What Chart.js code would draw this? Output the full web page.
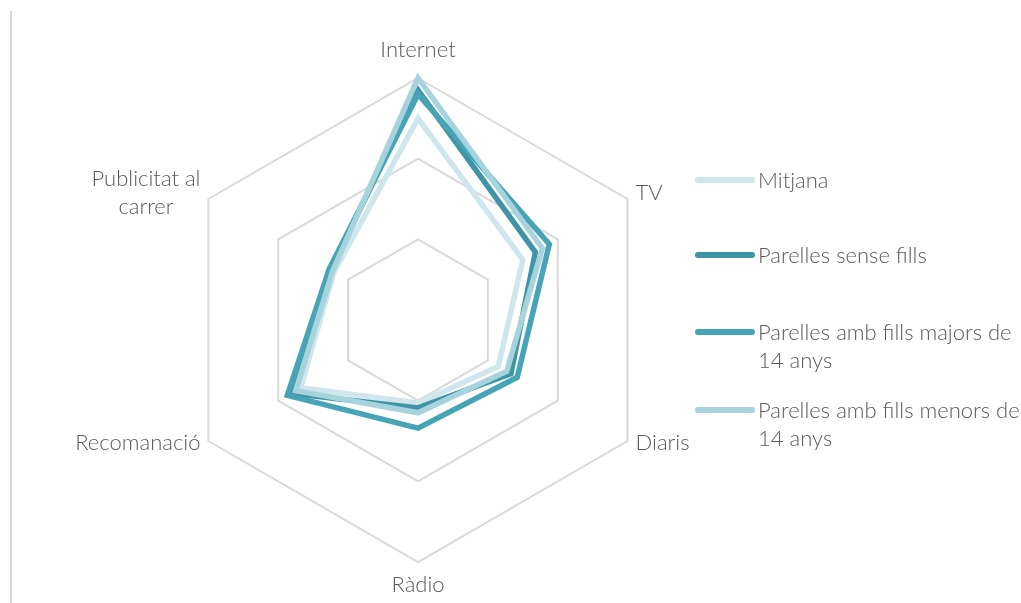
<!DOCTYPE html>
<html>
<head>
<meta charset="utf-8">
<script src="https://cdn.jsdelivr.net/npm/chart.js@4"></script>
<style>
  body { margin: 0; background: #fff; font-family: Lato, "Open Sans", sans-serif; }
  #wrap { position: relative; width: 1021px; height: 603px; }
  #edge { position: absolute; left: 10px; top: 11px; width: 2px; height: 592px; background: #d9d9d9; }
  #chartBox { position: absolute; left: 0; top: 0; width: 1021px; height: 603px; }
  #legend { position: absolute; left: 695px; top: 0; }
  .item { position: absolute; left: 0; width: 330px; }
  .item .swatch { position: absolute; left: 0; width: 60px; height: 6px; border-radius: 3px; }
  .item .txt { position: absolute; left: 63px; font-size: 22px; font-weight: 300; line-height: 28px; color: #595959; white-space: nowrap; }
</style>
</head>
<body>
<div id="wrap">
  <div id="edge"></div>
  <div id="chartBox"><canvas id="myChart"></canvas></div>
  <div id="legend"></div>
</div>
<script>
const categories = ['Internet', 'TV', 'Diaris', 'Ràdio', 'Recomanació', ['Publicitat al', 'carrer']]

const seriesNames = ['Mitjana', 'Parelles sense fills', 'Parelles amb fills majors de 14 anys', 'Parelles amb fills menors de 14 anys']
const legendLines = [['Mitjana'], ['Parelles sense fills'], ['Parelles amb fills majors de', '14 anys'], ['Parelles amb fills menors de', '14 anys']]

const mitjana = [2.5, 1.5, 1.15, 1.03, 1.68, 1.2]
const senseFills = [2.85, 1.68, 1.33, 1.09, 1.82, 1.25]
const fillsMajors = [2.8, 1.88, 1.42, 1.34, 1.87, 1.27]
const fillsMenors = [3.0, 1.78, 1.27, 1.15, 1.75, 1.22]

const colors = ['#cfe6ec', '#3e95a6', '#47a4b6', '#a7d3dd']
const allValues = [mitjana, senseFills, fillsMajors, fillsMenors]

// category labels drawn at the scale's own point positions, Excel style
const labelPlugin = {
    id: 'catLabels',
    afterDraw(chart) {
        const scale = chart.scales.r
        const ctx = chart.ctx
        const R = scale.drawingArea
        ctx.save()
        ctx.font = '300 22px Lato'
        ctx.fillStyle = '#595959'
        ctx.textBaseline = 'middle'
        const lh = 28
        categories.forEach((lab, i) => {
            const lines = Array.isArray(lab) ? lab : [lab]
            const p = scale.getPointPosition(i, R)
            const dx = p.x - scale.xCenter
            const dy = p.y - scale.yCenter
            let cx, cy, align
            if (Math.abs(dx) < 1) {
                cx = p.x
                cy = dy < 0 ? p.y - 28 : p.y + 23
                align = 'center'
            } else {
                align = dx > 0 ? 'left' : 'right'
                cx = dx > 0 ? p.x + 8 : p.x - 8
                cy = dy < 0 ? p.y - 6 : p.y + 2
            }
            const widths = lines.map(l => ctx.measureText(l).width)
            const maxW = Math.max(...widths)
            const top = cy - (lines.length - 1) * lh / 2
            lines.forEach((l, j) => {
                let x = cx
                ctx.textAlign = 'center'
                if (align === 'left') x = cx + maxW / 2
                if (align === 'right') x = cx - maxW / 2
                ctx.fillText(l, x, top + j * lh)
            })
        })
        ctx.restore()
    }
}

new Chart("myChart", {
    type: "radar",
    data: {
      labels: categories,
      datasets: allValues.map((vals, i) => ({
        label: seriesNames[i],
        data: vals,
        fill: false,
        borderColor: colors[i],
        backgroundColor: colors[i],
        borderWidth: 5.5,
        pointRadius: 0,
        tension: 0,
        order: 4 - i
      }))
    },
    options: {
      responsive: true,
      maintainAspectRatio: false,
      animation: false,
      layout: { padding: { top: 78, bottom: 41, left: 0, right: 185 } },
      plugins: { legend: { display: false }, tooltip: { enabled: false } },
      scales: {
        r: {
          min: 0,
          max: 3,
          ticks: { stepSize: 1, display: false },
          angleLines: { display: false },
          grid: { color: '#d9d9d9', lineWidth: 2 },
          pointLabels: { display: false }
        }
      }
    },
    plugins: [labelPlugin]
})

// legend on the right
const legend = document.getElementById('legend')
const itemTops = [166, 241, 318, 396]
legendLines.forEach((lines, i) => {
    const div = document.createElement('div')
    div.className = 'item'
    div.style.top = itemTops[i] + 'px'
    div.innerHTML = `<div class="swatch" style="background:${colors[i]};top:11px"></div>` +
      `<div class="txt" style="top:0">${lines.join('<br>')}</div>`
    legend.appendChild(div)
})
</script>
</body>
</html>
